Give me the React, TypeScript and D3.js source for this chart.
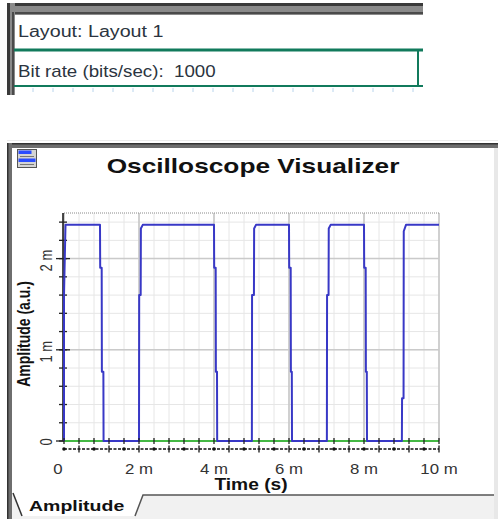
import React from "react";
import * as d3 from "d3";

// ---- data ----
const layoutLabel = "Layout: Layout 1";
const bitRateLabel = "Bit rate (bits/sec):  1000";
const chartTitle = "Oscilloscope Visualizer";
const xAxisTitle = "Time (s)";
const yAxisTitle = "Amplitude (a.u.)";
const tabLabel = "Amplitude";

// time in ms, amplitude in milli a.u.
const xTickValues = [0, 2, 4, 6, 8, 10];
const xTickLabels = ["0", "2 m", "4 m", "6 m", "8 m", "10 m"];
const yTickValues = [0, 1, 2];
const yTickLabels = ["0", "1 m", "2 m"];

const signalTime = [
  0, 0, 0.04,
  0.96, 0.965, 1.005, 1.01, 1.05, 1.055,
  2.0, 2.005, 2.045, 2.05, 2.1,
  4.0, 4.005, 4.045, 4.05, 4.08, 4.085,
  5.01, 5.015, 5.065, 5.07, 5.12,
  6.0, 6.005, 6.045, 6.05, 6.075, 6.08,
  7.01, 7.015, 7.055, 7.06, 7.11,
  8.0, 8.005, 8.045, 8.05, 8.075, 8.08,
  9.01, 9.015, 9.055, 9.06, 9.12,
  10.0,
];
const signalAmp = [
  0, 1.6, 2.37,
  2.37, 1.9, 1.9, 0.76, 0.76, 0,
  0, 1.6, 1.6, 2.33, 2.37,
  2.37, 1.9, 1.9, 0.76, 0.76, 0,
  0, 1.6, 1.6, 2.33, 2.37,
  2.37, 1.9, 1.9, 0.76, 0.76, 0,
  0, 1.6, 1.6, 2.33, 2.37,
  2.37, 1.9, 1.9, 0.76, 0.76, 0,
  0, 0.47, 0.47, 2.3, 2.37,
  2.37,
];
const noiseTime = [0, 10];
const noiseAmp = [0, 0];

const FONT = "'Liberation Sans', Arial, Helvetica, sans-serif";

function Label(props: {
  x: number; y: number; text: string; size: number; weight?: string;
  anchor?: string; sx?: number; rotate?: number; fill?: string;
}) {
  const { x, y, text, size, weight = "normal", anchor = "start", sx = 1.23, rotate, fill = "#222" } = props;
  return (
    <g transform={`translate(${x},${y}) scale(${sx},1)${rotate ? ` rotate(${rotate})` : ""}`}>
      <text
        fontFamily={FONT}
        fontSize={size}
        fontWeight={weight}
        textAnchor={anchor as any}
        fill={fill}
        style={{ whiteSpace: "pre" }}
      >
        {text}
      </text>
    </g>
  );
}

export default function App() {
  const x = d3.scaleLinear().domain([0, 10]).range([64, 439]);
  const y = d3.scaleLinear().domain([0, 2.5]).range([441, 213]);

  const minorX = d3.range(0, 10.001, 0.4);
  const minorY = d3.range(0, 2.501, 0.2);

  const line = d3
    .line<[number, number]>()
    .x((d) => x(d[0]))
    .y((d) => y(d[1]));

  const signal = signalTime.map((t, i) => [t, signalAmp[i]] as [number, number]);
  const noise = noiseTime.map((t, i) => [t, noiseAmp[i]] as [number, number]);

  const rulerTicks = d3.range(33, 420, 20);
  const axisBottomY = 449;

  return (
    <svg
      width={503}
      height={519}
      style={{ position: "absolute", left: 0, top: 0, background: "#fff" }}
    >
      {/* ---------- top panel ---------- */}
      <rect x={7} y={3} width={416} height={12} fill="#8a8a8a" />
      <rect x={7} y={3} width={416} height={3} fill="#3a3a3a" />
      <rect x={7} y={12} width={416} height={2} fill="#4a4a4a" />
      <rect x={7} y={3} width={8} height={92} fill="#8a8a8a" />
      <rect x={7} y={3} width={3} height={92} fill="#3a3a3a" />
      <rect x={12} y={12} width={2} height={83} fill="#4a4a4a" />
      <Label x={18} y={37} text={layoutLabel} size={16} fill="#2b3440" />
      <line x1={14} x2={423} y1={50} y2={50} stroke="#117a5c" strokeWidth={3} />
      <line x1={418} x2={418} y1={50} y2={86} stroke="#117a5c" strokeWidth={2} />
      <line x1={14} x2={423} y1={86} y2={86} stroke="#117a5c" strokeWidth={2} />
      <Label x={18} y={77} text={bitRateLabel} size={16} sx={1.17} fill="#2b3440" />
      {rulerTicks.map((tx) => (
        <line key={tx} x1={tx} x2={tx} y1={88} y2={92} stroke="#b8d4ec" strokeWidth={1} />
      ))}

      {/* ---------- lower panel frame ---------- */}
      <line x1={7} x2={498} y1={140.5} y2={140.5} stroke="#ececec" />
      <rect x={7} y={143} width={491} height={5} fill="#6e6e6e" />
      <rect x={7} y={143} width={491} height={1.5} fill="#333" />
      <rect x={7} y={143} width={5} height={376} fill="#6e6e6e" />
      <rect x={7} y={143} width={1.5} height={376} fill="#333" />
      <rect x={494} y={148} width={4} height={371} fill="#e8e8e8" />

      {/* icon */}
      <rect x={17.5} y={149.5} width={19} height={18} fill="#d4d4d4" stroke="#555" />
      <rect x={18.5} y={150.5} width={13} height={3.5} fill="#2a4cff" />
      <line x1={20} x2={34} y1={156.5} y2={156.5} stroke="#777" />
      <rect x={18.5} y={158.5} width={17} height={3.5} fill="#2a4cff" />
      <line x1={20} x2={34} y1={164.5} y2={164.5} stroke="#777" />

      {/* title */}
      <Label x={253} y={173} text={chartTitle} size={21} weight="bold" anchor="middle" sx={1.25} fill="#111" />

      {/* ---------- plot ---------- */}
      {minorX.map((v) => (
        <line key={"gx" + v} x1={x(v)} x2={x(v)} y1={y(2.5)} y2={y(0)} stroke="#e6e6e6" strokeWidth={1} />
      ))}
      {minorY.map((v) => (
        <line key={"gy" + v} x1={x(0)} x2={x(10)} y1={y(v)} y2={y(v)} stroke="#e6e6e6" strokeWidth={1} />
      ))}
      {xTickValues.map((v) => (
        <line key={"Gx" + v} x1={x(v)} x2={x(v)} y1={y(2.5)} y2={y(0)} stroke="#c4c4c4" strokeWidth={1.5} />
      ))}
      {yTickValues.map((v) => (
        <line key={"Gy" + v} x1={x(0)} x2={x(10)} y1={y(v)} y2={y(v)} stroke="#cacaca" strokeWidth={1.5} />
      ))}
      {/* dotted top border */}
      <line x1={x(0)} x2={x(10)} y1={y(2.5)} y2={y(2.5)} stroke="#8a8a8a" strokeWidth={1} strokeDasharray="1,1" />

      {/* y axis */}
      <line x1={63} x2={63} y1={y(2.5)} y2={y(0)} stroke="#111" strokeWidth={1.5} />
      {minorY.map((v) => (
        <line key={"ty" + v} x1={59} x2={67} y1={y(v)} y2={y(v)} stroke="#222" strokeWidth={1.3} />
      ))}
      {yTickValues.map((v) => (
        <line key={"Ty" + v} x1={56} x2={70} y1={y(v)} y2={y(v)} stroke="#222" strokeWidth={1.3} />
      ))}

      {/* traces */}
      <path d={line(noise) || ""} fill="none" stroke="#44b844" strokeWidth={2} />
      <path d={line(signal) || ""} fill="none" stroke="#3838c6" strokeWidth={2} strokeLinejoin="round" />

      {/* ticks on zero line */}
      {minorX.map((v) => (
        <line key={"tz" + v} x1={x(v)} x2={x(v)} y1={y(0) - 3} y2={y(0) + 3} stroke="#222" strokeWidth={1.3} />
      ))}

      {/* bottom x axis */}
      <line x1={x(0)} x2={x(10)} y1={axisBottomY} y2={axisBottomY} stroke="#111" strokeWidth={1.5} strokeDasharray="3,1.5" />
      {minorX.map((v, i) =>
        (minorX.length - 1 - i) % 2 === 0 ? (
          <line key={"tb" + v} x1={x(v)} x2={x(v)} y1={axisBottomY - 3.5} y2={axisBottomY + 3.5} stroke="#111" strokeWidth={1.3} />
        ) : (
          <circle key={"tb" + v} cx={x(v)} cy={axisBottomY} r={1.8} fill="#111" />
        )
      )}

      {/* tick labels */}
      {xTickValues.map((v, i) => (
        <Label
          key={"lx" + v}
          x={v === 0 ? x(v) - 6 : x(v)}
          y={474}
          text={xTickLabels[i]}
          size={14}
          anchor="middle"
          sx={1.2}
          fill="#333"
        />
      ))}
      {yTickValues.map((v, i) => (
        <Label
          key={"ly" + v}
          x={52}
          y={y(v) + (v === 0 ? 1 : 2)}
          text={yTickLabels[i]}
          size={13}
          anchor="middle"
          sx={1.25}
          rotate={-90}
          fill="#333"
        />
      ))}

      {/* axis titles */}
      <Label x={251} y={490} text={xAxisTitle} size={16} weight="bold" anchor="middle" sx={1.2} fill="#111" />
      <Label x={30} y={334} text={yAxisTitle} size={14} weight="bold" anchor="middle" sx={1.25} rotate={-90} fill="#111" />

      {/* ---------- tab strip ---------- */}
      <rect x={12} y={495} width={482} height={24} fill="#f1f1f1" />
      <polygon points="13,493 22,516 135,516 143,495" fill="#fff" />
      <polyline points="13,493 22,516" fill="none" stroke="#333" strokeWidth={1.5} />
      <polyline points="135,516 143,495 494,495" fill="none" stroke="#555" strokeWidth={1.5} />
      <Label x={29} y={511} text={tabLabel} size={15} weight="bold" sx={1.3} fill="#111" />
    </svg>
  );
}
